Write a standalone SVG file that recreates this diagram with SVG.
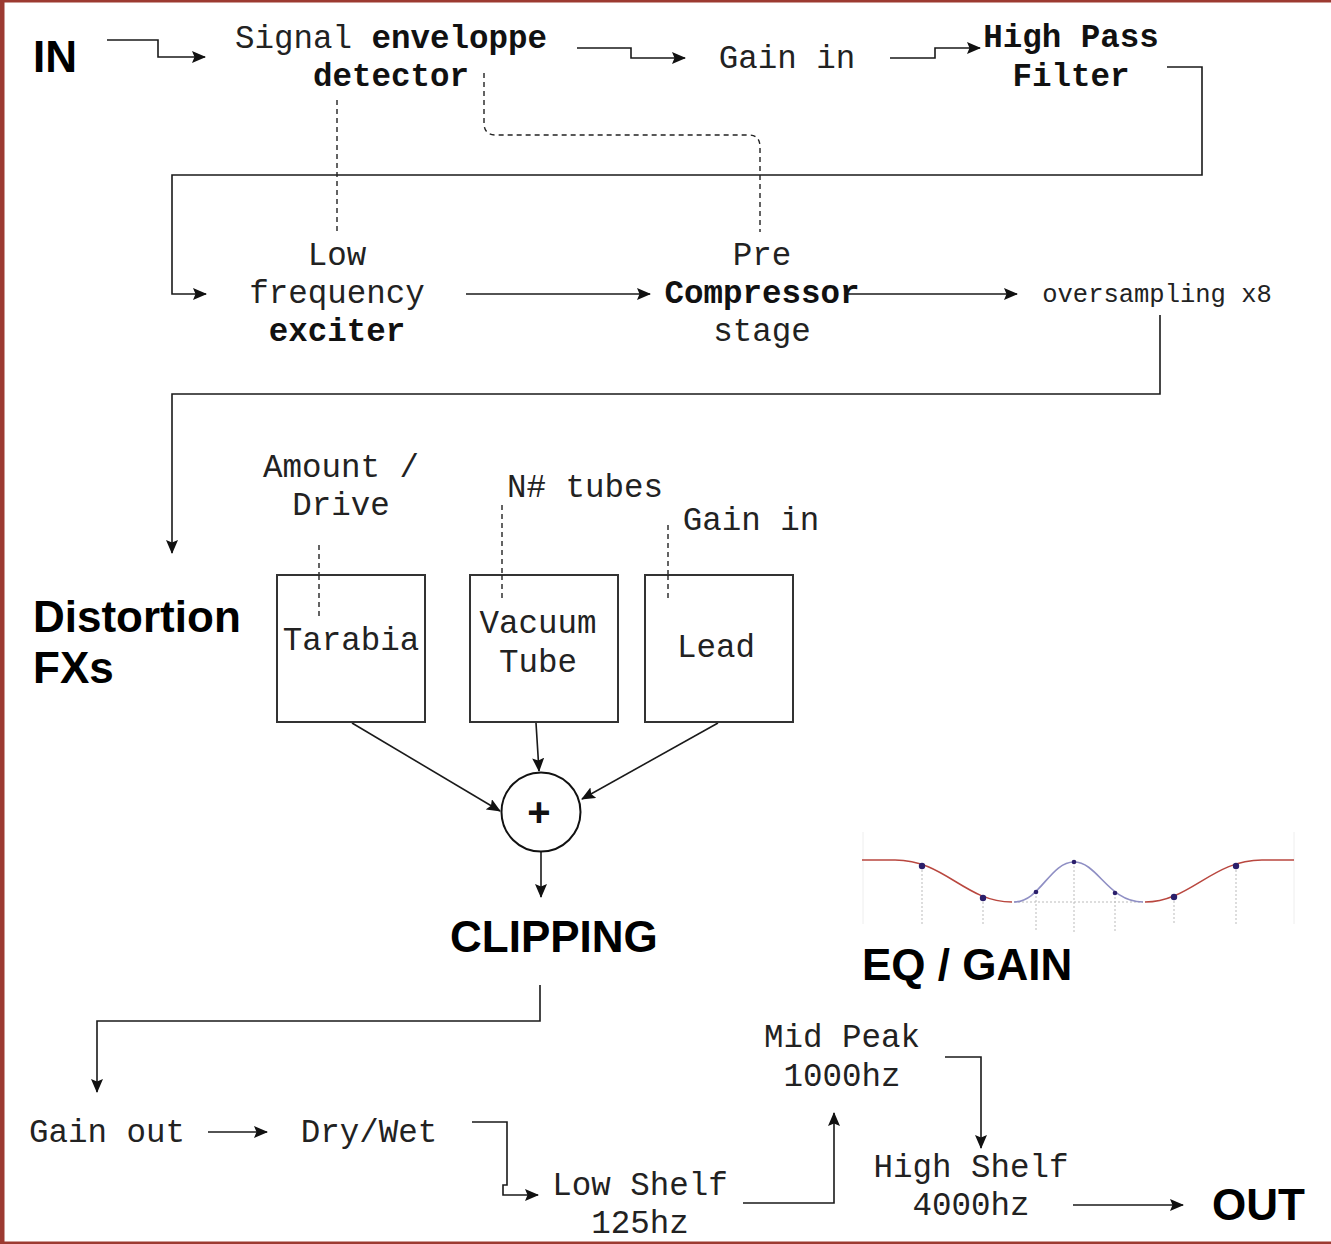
<svg xmlns="http://www.w3.org/2000/svg" width="1331" height="1244" viewBox="0 0 1331 1244">
<defs>
<style>
.m{font-family:"Liberation Mono","Courier New",monospace;font-size:32.5px;fill:#222;text-anchor:middle}
.b{font-weight:bold;fill:#111}
.h{font-family:"Liberation Sans",Arial,sans-serif;font-weight:bold;font-size:44px;fill:#000}
.c{fill:none;stroke:#1a1a1a;stroke-width:1.6}
.d{fill:none;stroke:#222;stroke-width:1.4;stroke-dasharray:5 4}
.box{fill:#fff;stroke:#333;stroke-width:2}
.eqv{stroke:#bbb;stroke-width:1;stroke-dasharray:2 2;fill:none}
</style>
<marker id="a" viewBox="0 0 14 12" refX="13" refY="6" markerWidth="14" markerHeight="12" markerUnits="userSpaceOnUse" orient="auto">
<path d="M0,0 L14,6 L0,12 L2.5,6 z" fill="#111"/>
</marker>
</defs>
<rect x="0" y="0" width="1331" height="1244" fill="#fff"/>
<g id="frame" fill="#9c3a31">
<rect x="0" y="0" width="1331" height="2.5"/>
<rect x="0" y="0" width="4.5" height="1244"/>
<rect x="0" y="1241.5" width="1331" height="2.5"/>
</g>

<g id="connectors">
<path class="c" marker-end="url(#a)" d="M107,40 H158 V57 H205"/>
<path class="c" marker-end="url(#a)" d="M577,48 H631 V58 H685"/>
<path class="c" marker-end="url(#a)" d="M890,58 H935 V48 H980"/>
<path class="c" marker-end="url(#a)" d="M1167,67 H1202 V175 H172 V294 H206"/>
<path class="c" marker-end="url(#a)" d="M466,294 H650"/>
<path class="c" marker-end="url(#a)" d="M845,294 H1017"/>
<path class="c" marker-end="url(#a)" d="M1160,315 V394 H172 V553"/>
<path class="c" marker-end="url(#a)" d="M352,723 L500,811"/>
<path class="c" marker-end="url(#a)" d="M536,723 L539,771"/>
<path class="c" marker-end="url(#a)" d="M718,723 L582,799"/>
<path class="c" marker-end="url(#a)" d="M541,852 V897"/>
<path class="c" marker-end="url(#a)" d="M540,985 V1021 H97 V1092"/>
<path class="c" marker-end="url(#a)" d="M208,1132 H267"/>
<path class="c" marker-end="url(#a)" d="M472,1122 H507 V1185 H503 V1195 H538"/>
<path class="c" marker-end="url(#a)" d="M743,1203 H834 V1113"/>
<path class="c" marker-end="url(#a)" d="M945,1057 H981 V1148"/>
<path class="c" marker-end="url(#a)" d="M1073,1205 H1183"/>
<path class="d" d="M337,100 V232"/>
<path class="d" d="M484,73 V123 Q484,135 496,135 H749 Q760,135 760,147 V232"/>
<path class="d" d="M319,545 V616"/>
<path class="d" d="M502,505 V598"/>
<path class="d" d="M668,525 V598"/>
</g>

<g id="n-in"><text class="h" x="33" y="72">IN</text></g>
<g id="n-envelope">
<text class="m" x="391" y="48">Signal <tspan class="b">enveloppe</tspan></text>
<text class="m b" x="391" y="86">detector</text>
</g>
<g id="n-gainin"><text class="m" x="787" y="68">Gain in</text></g>
<g id="n-hpf">
<text class="m b" x="1071" y="47">High Pass</text>
<text class="m b" x="1071" y="86">Filter</text>
</g>
<g id="n-lfe">
<text class="m" x="337" y="265">Low</text>
<text class="m" x="337" y="303">frequency</text>
<text class="m b" x="337" y="341">exciter</text>
</g>
<g id="n-comp">
<text class="m" x="762" y="265">Pre</text>
<text class="m b" x="762" y="303">Compressor</text>
<text class="m" x="762" y="341">stage</text>
</g>
<g id="n-over"><text class="m" x="1157" y="302" style="font-size:25.5px">oversampling x8</text></g>
<g id="n-dist">
<text class="h" x="33" y="632">Distortion</text>
<text class="h" x="33" y="683">FXs</text>
</g>
<g id="n-amount">
<text class="m" x="341" y="477">Amount /</text>
<text class="m" x="341" y="515">Drive</text>
</g>
<g id="n-ntubes"><text class="m" x="585" y="497">N# tubes</text></g>
<g id="n-gainin2"><text class="m" x="751" y="530">Gain in</text></g>
<g id="n-tarabia">
<rect class="box" x="277" y="575" width="148" height="147"/>
<text class="m" x="351" y="650">Tarabia</text>
</g>
<g id="n-vacuum">
<rect class="box" x="470" y="575" width="148" height="147"/>
<text class="m" x="538" y="633">Vacuum</text>
<text class="m" x="538" y="672">Tube</text>
</g>
<g id="n-lead">
<rect class="box" x="645" y="575" width="148" height="147"/>
<text class="m" x="716" y="657">Lead</text>
</g>
<path class="d" d="M319,575 V616"/>
<path class="d" d="M502,575 V598"/>
<path class="d" d="M668,575 V598"/>
<g id="n-sum">
<circle cx="541" cy="812" r="39.5" fill="#fff" stroke="#111" stroke-width="2"/>
<text x="539" y="826" text-anchor="middle" style="font-family:'Liberation Sans',Arial,sans-serif;font-weight:bold;font-size:40px;fill:#111">+</text>
</g>
<g id="n-clipping"><text class="h" x="450" y="952">CLIPPING</text></g>

<g id="eq-graph">
<line x1="863" y1="832" x2="863" y2="924" stroke="#eee" stroke-width="1"/>
<line x1="1294" y1="832" x2="1294" y2="924" stroke="#eee" stroke-width="1"/>
<line class="eqv" x1="1014" y1="902" x2="1143" y2="902"/>
<line class="eqv" x1="922" y1="866" x2="922" y2="924"/>
<line class="eqv" x1="983" y1="898" x2="983" y2="924"/>
<line class="eqv" x1="1036" y1="892" x2="1036" y2="932"/>
<line class="eqv" x1="1074" y1="862" x2="1074" y2="932"/>
<line class="eqv" x1="1115" y1="893" x2="1115" y2="932"/>
<line class="eqv" x1="1174" y1="897" x2="1174" y2="924"/>
<line class="eqv" x1="1236" y1="866" x2="1236" y2="924"/>
<path d="M862,860 H895 C945,860 965,902 1012,902" fill="none" stroke="#b9473f" stroke-width="1.5"/>
<path d="M1145,902 C1190,902 1212,860 1262,860 H1294" fill="none" stroke="#b9473f" stroke-width="1.5"/>
<path d="M1014,902 C1040,902 1050,862 1074,862 C1098,862 1108,902 1143,902" fill="none" stroke="#8f8fc4" stroke-width="1.6"/>
<g fill="#2b1f6b">
<circle cx="922" cy="866" r="3.2"/>
<circle cx="983" cy="898" r="3.2"/>
<circle cx="1036" cy="892" r="2.3"/>
<circle cx="1074" cy="862" r="2.3"/>
<circle cx="1115" cy="893" r="2.3"/>
<circle cx="1174" cy="897" r="3.2"/>
<circle cx="1236" cy="866" r="3.2"/>
</g>
</g>
<g id="n-eqgain"><text class="h" x="862" y="980">EQ / GAIN</text></g>

<g id="n-gainout"><text class="m" x="107" y="1142">Gain out</text></g>
<g id="n-drywet"><text class="m" x="369" y="1142">Dry/Wet</text></g>
<g id="n-lowshelf">
<text class="m" x="640" y="1195">Low Shelf</text>
<text class="m" x="640" y="1233">125hz</text>
</g>
<g id="n-midpeak">
<text class="m" x="842" y="1047">Mid Peak</text>
<text class="m" x="842" y="1086">1000hz</text>
</g>
<g id="n-highshelf">
<text class="m" x="971" y="1177">High Shelf</text>
<text class="m" x="971" y="1215">4000hz</text>
</g>
<g id="n-out"><text class="h" x="1212" y="1220">OUT</text></g>
</svg>
